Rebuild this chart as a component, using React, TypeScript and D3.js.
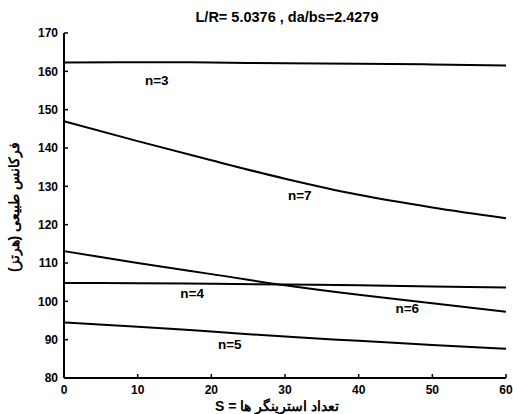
import React from 'react';
import * as d3 from 'd3';

const sValues = [0, 10, 20, 30, 40, 50, 60];
const n3 = [162.3, 162.4, 162.3, 162.1, 162.0, 161.8, 161.5];
const n4 = [104.8, 104.7, 104.6, 104.4, 104.2, 103.9, 103.6];
const n5 = [94.5, 93.4, 92.1, 90.8, 89.7, 88.6, 87.6];
const n6 = [113.1, 110.0, 107.1, 104.2, 101.7, 99.5, 97.3];
const n7 = [147.0, 141.8, 136.8, 132.0, 127.8, 124.5, 121.7];
const seriesNames = ['n=3', 'n=4', 'n=5', 'n=6', 'n=7'];
// label anchor points in data units (s, frequency)
const labelS = [12.6, 17.4, 22.5, 46.6, 32.0];
const labelF = [157.7, 102.2, 88.9, 98.3, 127.7];
const xTicks = [0, 10, 20, 30, 40, 50, 60];
const yTicks = [80, 90, 100, 110, 120, 130, 140, 150, 160, 170];

const W = 513;
const H = 414;
const left = 64, right = 506, top = 33, bottom = 378;

export default function App() {
  const x = d3.scaleLinear().domain([0, 60]).range([left, right]);
  const y = d3.scaleLinear().domain([80, 170]).range([bottom, top]);
  const line = d3.line<number>()
    .x((_, i) => x(sValues[i]))
    .y(d => y(d))
    .curve(d3.curveMonotoneX);
  const series = [n3, n4, n5, n6, n7];
  const font = '"Liberation Sans", Arial, sans-serif';

  return (
    <svg width={W} height={H} style={{ position: 'absolute', left: 0, top: 0, background: '#fff' }}
      fontFamily={font}>
      <text x={(left + right) / 2 + 2} y={22} textAnchor="middle" fontSize={14.5} fontWeight="bold">
        L/R= 5.0376 , da/bs=2.4279
      </text>

      {series.map((s, i) => (
        <path key={seriesNames[i]} d={line(s) || ''} fill="none" stroke="#000" strokeWidth={2} />
      ))}
      {seriesNames.map((nm, i) => (
        <text key={nm} x={x(labelS[i])} y={y(labelF[i])} dy="0.35em" textAnchor="middle"
          fontSize={13.5} fontWeight="bold">{nm}</text>
      ))}

      {/* axes */}
      <line x1={left} x2={left} y1={top} y2={bottom} stroke="#000" strokeWidth={2} />
      <line x1={left} x2={right} y1={bottom} y2={bottom} stroke="#000" strokeWidth={2} />
      {yTicks.map(t => (
        <g key={t}>
          <line x1={left} x2={left + 4} y1={y(t)} y2={y(t)} stroke="#000" strokeWidth={1.5} />
          <text x={left - 6} y={y(t)} dy="0.35em" textAnchor="end" fontSize={12} fontWeight="bold">{t}</text>
        </g>
      ))}
      {xTicks.map(t => (
        <g key={t}>
          <line x1={x(t)} x2={x(t)} y1={bottom} y2={bottom - 4} stroke="#000" strokeWidth={1.5} />
          <text x={x(t)} y={bottom + 16} textAnchor="middle" fontSize={12} fontWeight="bold">{t}</text>
        </g>
      ))}

      <text x={277} y={411} textAnchor="middle" fontSize={14} fontWeight="bold">
        S = تعداد استرینگر ها
      </text>
      <text transform={`translate(19,207) rotate(-90)`} textAnchor="middle" direction="rtl"
        fontSize={14} fontWeight="bold">
        فرکانس طبیعی (هرتز)
      </text>
    </svg>
  );
}
